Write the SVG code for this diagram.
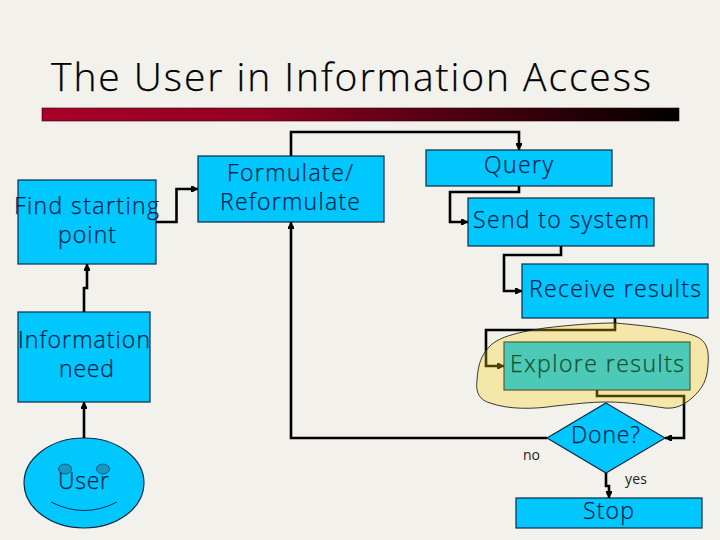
<svg xmlns="http://www.w3.org/2000/svg" width="720" height="540" viewBox="0 0 720 540">
<style>
text{font-family:"Open Sans","Noto Sans",sans-serif;font-weight:300;fill:#06204a;font-size:23px;stroke:#06204a;stroke-width:.25}
.b{fill:#00c8ff;stroke:#0a2a4a;stroke-width:1.2}
.c{fill:none;stroke:#000;stroke-width:2.6;marker-end:url(#a)}
.l{font-size:14px;font-weight:400;fill:#222;stroke:none}
</style>
<defs>
<linearGradient id="g"><stop offset="0" stop-color="#a80028"/><stop offset=".35" stop-color="#900020"/><stop offset="1" stop-color="#000"/></linearGradient>
<marker id="a" markerUnits="userSpaceOnUse" markerWidth="8" markerHeight="8" refX="7" refY="4" orient="auto"><path d="M0 1 L2 1 L7 4 L2 7 L0 7Z" fill="#000"/></marker>
</defs>
<rect width="720" height="540" fill="#f3f1eb"/>
<text x="51" y="91" textLength="600" style="font-size:39px;fill:#000;stroke:#000">The User in Information Access</text>
<rect x="42" y="108" width="637" height="13" fill="url(#g)" stroke="#300010" stroke-width=".6"/>
<g id="find"><rect class="b" x="18" y="180" width="138" height="84"/><text x="14" y="214" textLength="145">Find starting</text><text x="58" y="243" textLength="58">point</text></g>
<g id="formulate"><rect class="b" x="198" y="156" width="186" height="66"/><text x="227" y="181" textLength="126">Formulate/</text><text x="220" y="210" textLength="140">Reformulate</text></g>
<g id="query"><rect class="b" x="426" y="150" width="186" height="36"/><text x="484" y="173" textLength="69">Query</text></g>
<g id="send"><rect class="b" x="468" y="198" width="186" height="48"/><text x="473" y="228" textLength="176">Send to system</text></g>
<g id="receive"><rect class="b" x="522" y="264" width="186" height="54"/><text x="529" y="297" textLength="172">Receive results</text></g>
<g id="info"><rect class="b" x="18" y="312" width="132" height="90"/><text x="18" y="348" textLength="132">Information</text><text x="59" y="377" textLength="55">need</text></g>
<g id="user"><ellipse class="b" cx="84" cy="483" rx="60" ry="45"/><ellipse cx="65" cy="469" rx="6.500" ry="5" fill="#1898c0" stroke="#0a5a80"/><ellipse cx="103" cy="469" rx="6.500" ry="5" fill="#1898c0" stroke="#0a5a80"/><path d="M51 502Q84 519 117 502" fill="none" stroke="#0a2a4a"/><text x="58" y="489" textLength="51">User</text></g>
<g id="done"><path class="b" d="M606 403L665 438L606 473L547 438Z"/><text x="571" y="443" textLength="69">Done?</text></g>
<g id="stop"><rect class="b" x="516" y="498" width="186" height="30"/><text x="583" y="519" textLength="51">Stop</text></g>
<g id="explore"><rect class="b" x="504" y="342" width="186" height="48"/></g>
<g id="connectors">
<path class="c" d="M84 438V402"/>
<path class="c" d="M84 312V288H87V264"/>
<path class="c" d="M156 222H176.500V189H198"/>
<path class="c" d="M291 156V132H519V150"/>
<path class="c" d="M519 186V192H450V222H468"/>
<path class="c" d="M561 246V255H504V291H522"/>
<path class="c" d="M615 318V330H486V366H504"/>
<path class="c" d="M597 390V396H684V438H665"/>
<path class="c" d="M547 438H291V222"/>
<path class="c" d="M606 473V486H609V498"/>
</g>
<path id="blob" d="M615 323C650 326 680 330 695 336C708 341 709 352 708 365C707 380 703 388 692 398C684 405 676 409 665 408C650 406 630 402 607 402C590 402 575 404 555 406C535 409 510 410 490 403C477 399 476 390 477 380C478 365 481 355 490 346C500 336 520 332 545 328C570 325 595 323 615 323Z" fill="#fdd010" fill-opacity=".3" stroke="#222" stroke-width=".9"/>
<text x="510" y="372" textLength="174" style="fill:#14502c;stroke:#14502c">Explore results</text>
<text class="l" x="523" y="460" textLength="17">no</text>
<text class="l" x="625" y="484" textLength="22">yes</text>
</svg>
